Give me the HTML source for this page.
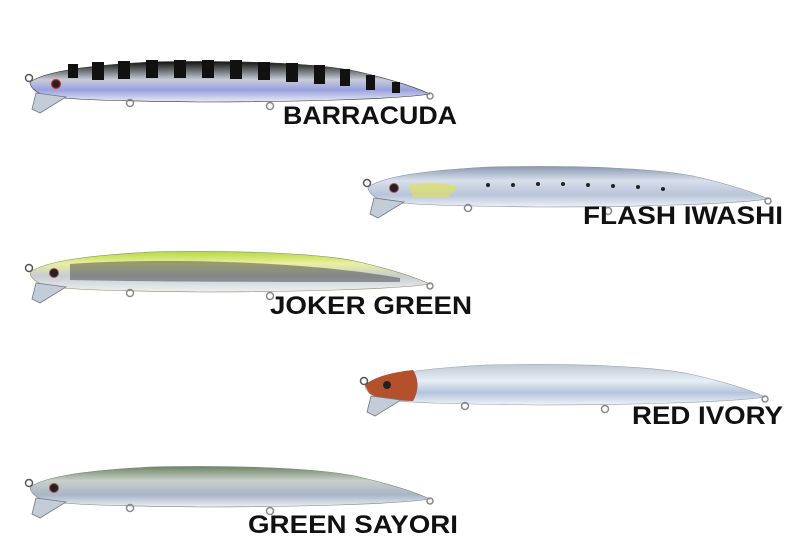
<!DOCTYPE html>
<html><head><meta charset="utf-8"><style>
html,body{margin:0;padding:0;background:#fff;}
svg{display:block}
text{font-family:"Liberation Sans",sans-serif;font-weight:bold;font-size:25px;fill:#111;}
</style></head><body>
<svg width="800" height="560" viewBox="0 0 800 560" xmlns="http://www.w3.org/2000/svg">
<defs>
<linearGradient id="g1" x1="0" y1="0" x2="0" y2="1"><stop offset="0" stop-color="#111"/><stop offset="0.45" stop-color="#c8ccd6"/><stop offset="0.7" stop-color="#9aa0e0"/><stop offset="1" stop-color="#e8ecf4"/></linearGradient>
<linearGradient id="g2" x1="0" y1="0" x2="0" y2="1"><stop offset="0" stop-color="#8a98b0"/><stop offset="0.35" stop-color="#d8e0ec"/><stop offset="0.7" stop-color="#b8c4d8"/><stop offset="1" stop-color="#eef2f8"/></linearGradient>
<linearGradient id="g3" x1="0" y1="0" x2="0" y2="1"><stop offset="0" stop-color="#b8d840"/><stop offset="0.3" stop-color="#e8f0a0"/><stop offset="0.6" stop-color="#c8ccd0"/><stop offset="1" stop-color="#eef0f4"/></linearGradient>
<linearGradient id="g4" x1="0" y1="0" x2="0" y2="1"><stop offset="0" stop-color="#c0c8d4"/><stop offset="0.4" stop-color="#e8eef6"/><stop offset="0.7" stop-color="#b4c4dc"/><stop offset="1" stop-color="#f2f4f8"/></linearGradient>
<linearGradient id="g5" x1="0" y1="0" x2="0" y2="1"><stop offset="0" stop-color="#6e8468"/><stop offset="0.35" stop-color="#c8d0c8"/><stop offset="0.7" stop-color="#a8b4c8"/><stop offset="1" stop-color="#eef0f4"/></linearGradient>
<g id="lip"><path d="M36,93 L66,97 L40,113 L32,109 Z" fill="#c4ccd8" stroke="#707888" stroke-width="0.8"/>
<circle cx="29" cy="78" r="3.5" fill="none" stroke="#555" stroke-width="1.5"/>
<circle cx="130" cy="103" r="3.5" fill="none" stroke="#888" stroke-width="1.5"/>
<circle cx="270" cy="106" r="3.5" fill="none" stroke="#888" stroke-width="1.5"/>
<circle cx="430" cy="96" r="3" fill="none" stroke="#888" stroke-width="1.5"/></g>
<path id="body" d="M30,82 C45,72 80,66 150,62 C250,60 320,64 355,71 C390,79 415,87 430,94 C400,99 300,102 200,102 C120,101 70,100 45,96 C36,92 30,88 30,82 Z"/>
</defs>
<!-- lure 1 -->
<g>
<use href="#body" fill="url(#g1)" stroke="#333" stroke-width="0.6"/>
<g fill="#111">
<rect x="68" y="64" width="10" height="14"/><rect x="92" y="62" width="12" height="18"/><rect x="118" y="61" width="12" height="18"/><rect x="146" y="60" width="12" height="18"/><rect x="174" y="60" width="12" height="18"/><rect x="202" y="60" width="12" height="18"/><rect x="230" y="60" width="12" height="19"/><rect x="258" y="62" width="12" height="18"/><rect x="286" y="63" width="12" height="19"/><rect x="314" y="65" width="11" height="19"/><rect x="340" y="69" width="10" height="17"/><rect x="366" y="75" width="9" height="15"/><rect x="392" y="82" width="8" height="11"/>
</g>
<circle cx="56" cy="84" r="4.5" fill="#222" stroke="#c33" stroke-width="1.2"/>
<use href="#lip"/>
</g>
<text x="283" y="124" textLength="174" lengthAdjust="spacingAndGlyphs">BARRACUDA</text>
<!-- lure 2 -->
<g transform="translate(338,105)">
<use href="#body" fill="url(#g2)" stroke="#8890a0" stroke-width="0.6"/>
<path d="M70,80 C90,76 110,78 120,82 L110,92 L75,92Z" fill="#e0e060" opacity="0.7"/>
<g fill="#222"><circle cx="150" cy="80" r="2"/><circle cx="175" cy="80" r="2"/><circle cx="200" cy="79" r="2"/><circle cx="225" cy="79" r="2"/><circle cx="250" cy="80" r="2"/><circle cx="275" cy="81" r="2"/><circle cx="300" cy="82" r="2"/><circle cx="325" cy="84" r="2"/></g>
<circle cx="56" cy="83" r="4.5" fill="#222" stroke="#a55" stroke-width="1"/>
<use href="#lip"/>
</g>
<text x="583" y="224" textLength="200" lengthAdjust="spacingAndGlyphs">FLASH IWASHI</text>
<!-- lure 3 -->
<g transform="translate(0,190)">
<use href="#body" fill="url(#g3)" stroke="#889060" stroke-width="0.6"/>
<path d="M70,74 C150,68 300,70 400,88 L400,92 C300,92 150,92 70,90Z" fill="#333" opacity="0.45"/>
<circle cx="54" cy="83" r="4.5" fill="#222" stroke="#a55" stroke-width="1"/>
<use href="#lip"/>
</g>
<text x="270" y="314" textLength="202" lengthAdjust="spacingAndGlyphs">JOKER GREEN</text>
<!-- lure 4 -->
<g transform="translate(335,303)">
<use href="#body" fill="url(#g4)" stroke="#98a0b0" stroke-width="0.6"/>
<path d="M30,82 C40,73 60,69 78,67 C84,76 84,88 78,98 C60,98 40,95 34,90Z" fill="#b4502c"/>
<circle cx="52" cy="82" r="4" fill="#222"/>
<use href="#lip"/>
</g>
<text x="632" y="424" textLength="151" lengthAdjust="spacingAndGlyphs">RED IVORY</text>
<!-- lure 5 -->
<g transform="translate(0,405)">
<use href="#body" fill="url(#g5)" stroke="#7a8878" stroke-width="0.6"/>
<circle cx="54" cy="83" r="4.5" fill="#222" stroke="#a55" stroke-width="1"/>
<use href="#lip"/>
</g>
<text x="248" y="533" textLength="210" lengthAdjust="spacingAndGlyphs">GREEN SAYORI</text>
</svg>
</body></html>
